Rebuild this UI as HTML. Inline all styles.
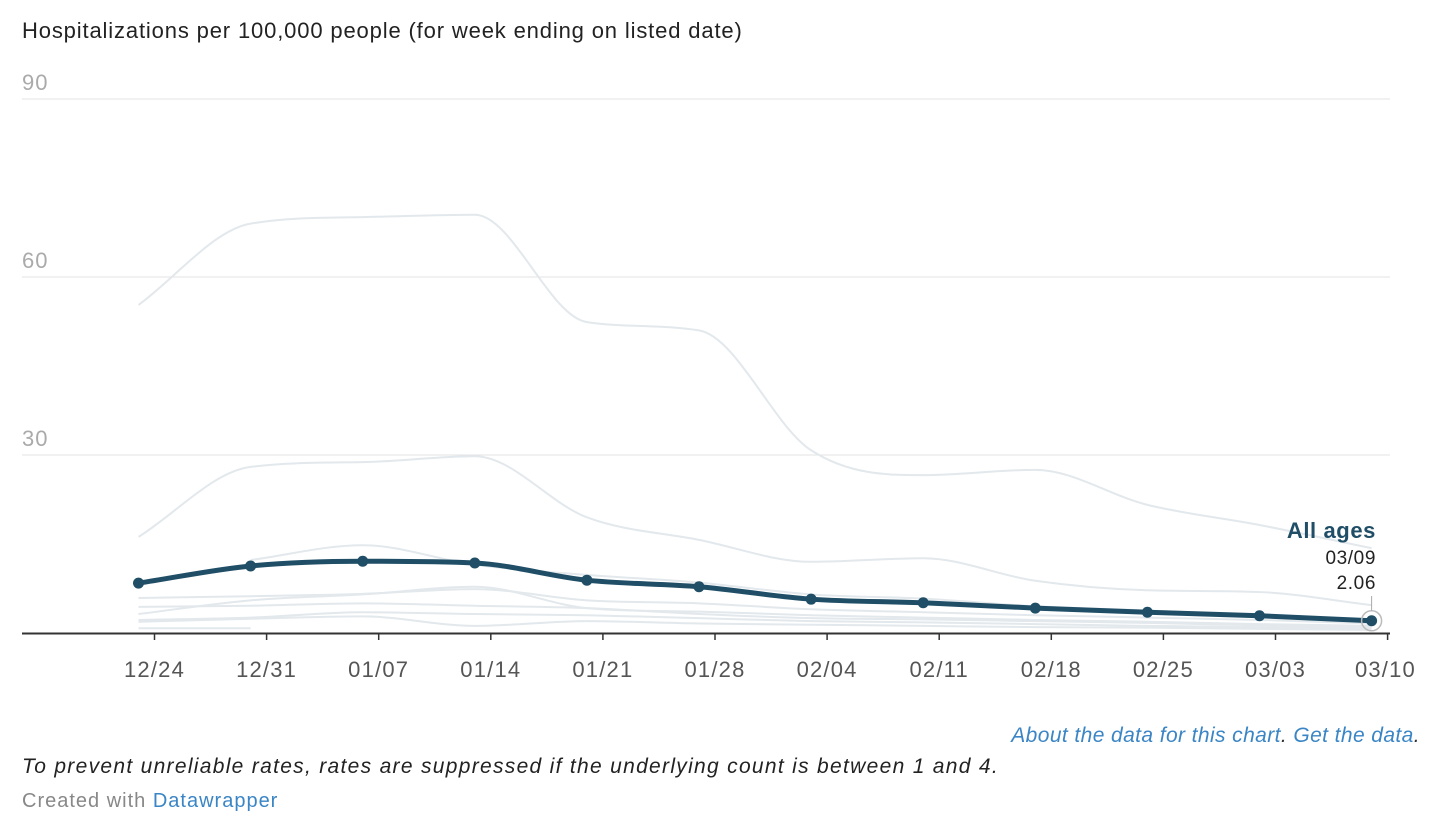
<!DOCTYPE html>
<html><head><meta charset="utf-8">
<style>
body{margin:0;background:#fff;font-family:"Liberation Sans",Arial,sans-serif;}
#wrap{position:relative;width:1446px;height:820px;}
.t{position:absolute;white-space:nowrap;}
a{color:#3a85c5;text-decoration:none;}
</style></head><body>
<div id="wrap">
<div class="t" style="left:22px;top:18px;font-size:22px;letter-spacing:0.85px;color:#222;">Hospitalizations per 100,000 people (for week ending on listed date)</div>
<svg id="chart" width="1446" height="720" style="position:absolute;left:0;top:0"></svg>
<div class="t" style="right:26px;top:724px;font-size:21px;letter-spacing:0.4px;font-style:italic;color:#3a85c5;"><a href="#">About the data for this chart</a><span style="color:#333">.</span> <a href="#">Get the data</a><span style="color:#333">.</span></div>
<div class="t" style="left:22px;top:755px;font-size:21px;letter-spacing:1.3px;font-style:italic;color:#222;">To prevent unreliable rates, rates are suppressed if the underlying count is between 1 and 4.</div>
<div class="t" style="left:22px;top:790px;font-size:20px;letter-spacing:1px;color:#888;">Created with <a href="#">Datawrapper</a></div>
</div>
<script>
const weeks=[0,1,2,3,4,5,6,7,8,9,10,11];
const tickLabels=["12/24","12/31","01/07","01/14","01/21","01/28","02/04","02/11","02/18","02/25","03/03","03/10"];
const yTicks=[30,60,90];
const allAges=[8.4,11.3,12.1,11.8,8.9,7.8,5.7,5.1,4.2,3.5,2.9,2.06];
const bg1=[55.3,69,70.1,70.5,52.4,51,30.8,26.6,27.5,21.6,18.2,14.3];
const bg2=[16.2,28,28.8,29.8,19.5,15.7,12,12.6,8.8,7.2,6.9,4.7];
const bg3=[null,12.3,14.8,11.5,9.8,8.5,6.5,5.8,4.5,3.8,3.0,2.2];
const bg4=[5.9,6.2,6.6,7.4,5.5,5.0,4.0,3.5,3.0,2.6,2.2,1.6];
const bg5=[3.2,5.5,6.5,7.8,4.2,3.6,3.0,2.6,2.2,1.9,1.5,1.2];
const bg6=[4.4,4.6,5.0,4.6,4.2,3.2,2.5,2.3,2.0,1.7,1.3,1.0];
const bg7=[2.2,2.6,3.5,3.2,3.0,2.5,2.0,1.8,1.5,1.2,1.0,0.7];
const bg8=[1.9,2.4,2.8,1.2,2.0,1.6,1.4,1.2,1.0,0.9,0.7,0.5];
const bg9=[0.8,0.8,null,null,null,null,null,null,null,null,null,null];
const svg=document.getElementById('chart');
const NS='http://www.w3.org/2000/svg';
const x=i=>138.5+i*112.1;
const y=v=>633-v*5.933;
const FONT='Liberation Sans,sans-serif';
function mk(tag,attrs){const e=document.createElementNS(NS,tag);for(const k in attrs)e.setAttribute(k,attrs[k]);svg.appendChild(e);return e;}
yTicks.forEach(t=>{
 const g=mk('line',{x1:22,x2:1390,y1:y(t),y2:y(t),stroke:'#e3e3e3','stroke-width':1});
 
 
 const tx=mk('text',{x:22,y:y(t)-9,fill:'#aaa','font-size':22,'letter-spacing':1,'font-family':FONT});
 tx.textContent=t;
 
 
});
const ax=mk('line',{x1:22,x2:1390,y1:633.5,y2:633.5,stroke:'#333','stroke-width':2});


tickLabels.forEach((l,i)=>{
 const xx=x(i)+16;
 const tk=mk('line',{x1:xx,x2:xx,y1:634,y2:640,stroke:'#333','stroke-width':1.5});
 
 
 const last=i===tickLabels.length-1;
 const tx=mk('text',{x:last?1416:xx,y:677,fill:'#555','font-size':22,'letter-spacing':1.2,'text-anchor':last?'end':'middle','font-family':FONT});
 tx.textContent=l;
 
 
});
function monotone(pts){
 const n=pts.length;if(n<2)return '';
 const d=[],m=[];
 for(let i=0;i<n-1;i++)d.push((pts[i+1][1]-pts[i][1])/(pts[i+1][0]-pts[i][0]));
 for(let i=0;i<n;i++){
  if(i===0)m.push(d[0]);else if(i===n-1)m.push(d[n-2]);
  else m.push(d[i-1]*d[i]<=0?0:(d[i-1]+d[i])/2);
 }
 for(let i=0;i<n-1;i++){
  if(d[i]===0){m[i]=0;m[i+1]=0;continue;}
  const a=m[i]/d[i],b=m[i+1]/d[i],s=a*a+b*b;
  if(s>9){const t=3/Math.sqrt(s);m[i]=t*a*d[i];m[i+1]=t*b*d[i];}
 }
 let p=`M${pts[0][0]},${pts[0][1]}`;
 for(let i=0;i<n-1;i++){
  const h=(pts[i+1][0]-pts[i][0])/3;
  p+=`C${pts[i][0]+h},${pts[i][1]+m[i]*h} ${pts[i+1][0]-h},${pts[i+1][1]-m[i+1]*h} ${pts[i+1][0]},${pts[i+1][1]}`;
 }
 return p;
}
function path(vals){let out='',seg=[];vals.forEach((v,i)=>{if(v==null){out+=monotone(seg);seg=[];return;}seg.push([x(weeks[i]),y(v)]);});out+=monotone(seg);return out;}
[bg1,bg2,bg3,bg4,bg5,bg6,bg7,bg8,bg9].forEach((s,k)=>{
 const p=mk('path',{d:path(s),fill:'none',stroke:'#e2e8ec','stroke-width':2});
 
 
});
const m=mk('path',{d:path(allAges),fill:'none',stroke:'#1f4e66','stroke-width':5,'stroke-linecap':'round'});


allAges.forEach((v,i)=>{
 const c=mk('circle',{cx:x(weeks[i]),cy:y(v),r:5.5,fill:'#1f4e66'});
 
 
});
const li=allAges.length-1;
const ring=mk('circle',{cx:x(li),cy:y(allAges[li]),r:10,fill:'none',stroke:'#bbb','stroke-width':1.5});


const ln=mk('line',{x1:x(li),x2:x(li),y1:596,y2:y(allAges[li])-10,stroke:'#aaa','stroke-width':1});


[["All ages",538,'bold',22,'#1f4e66',0.6],["03/09",564,'normal',19,'#222',0.6],[allAges[li].toFixed(2),589,'normal',19,'#222',0.6]].forEach((a,k)=>{
 const t=mk('text',{x:1376,y:a[1],'text-anchor':'end','font-weight':a[2],'font-size':a[3],'letter-spacing':a[5],fill:a[4],'font-family':FONT});
 t.textContent=a[0];
 
 
});
</script>
</body></html>
